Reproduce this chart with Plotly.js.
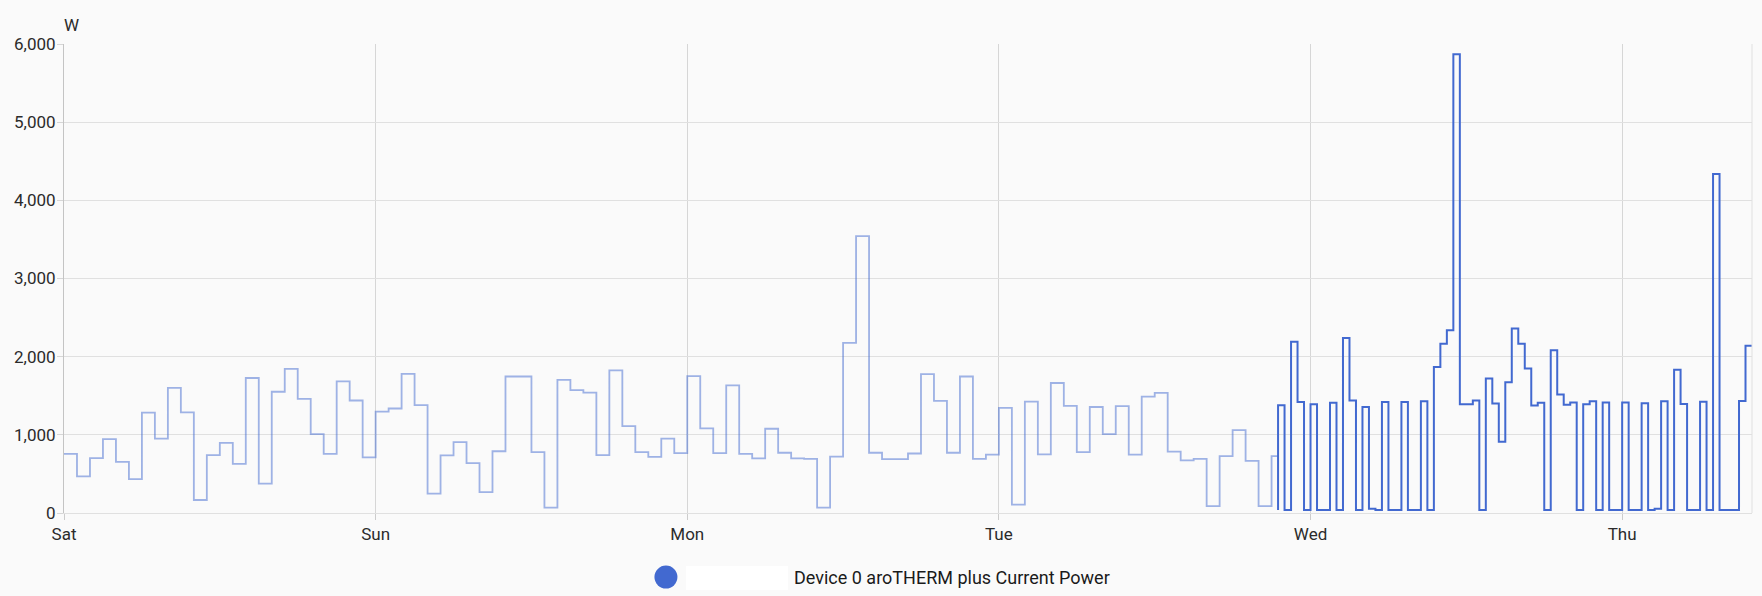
<!DOCTYPE html>
<html>
<head>
<meta charset="utf-8">
<script src="https://cdn.plot.ly/plotly-3.0.1.min.js"></script>
<style>
  html, body { margin: 0; padding: 0; background: #fafafa; }
  #chart { width: 1762px; height: 596px; }
</style>
</head>
<body>
<div id="chart"></div>
<script>
// ---- Data ----
// Long-term statistics (hourly means), starting Saturday 00:00
const statsStart = '2024-01-06T00:00:00';
const statsSat = [756, 468, 702, 946, 654, 434, 1283, 951, 1600, 1288, 166, 741, 898, 629, 1727, 376, 1551, 1844, 1459, 1010, 756, 1683, 1439, 712];
const statsSun = [1298, 1337, 1780, 1380, 249, 737, 907, 639, 268, 790, 1746, 1746, 780, 68, 1702, 1571, 1541, 741, 1824, 1112, 780, 717, 951, 766];
const statsMon = [1751, 1083, 766, 1634, 756, 698, 1078, 771, 698, 693, 68, 722, 2176, 3541, 771, 688, 688, 761, 1776, 1434, 771, 1746, 693, 746];
const statsTue = [1346, 107, 1424, 751, 1663, 1371, 780, 1356, 1010, 1366, 746, 1488, 1537, 785, 673, 693, 88, 727, 1059, 668, 88, 727];
const statsEnd = '2024-01-09T21:30:00';

// Recent history (state changes)
const histTimes = [
  '2024-01-09T21:30', '2024-01-09T21:30', '2024-01-09T22:00', '2024-01-09T22:30', '2024-01-09T23:00', '2024-01-09T23:30',
  '2024-01-10T00:00', '2024-01-10T00:30', '2024-01-10T01:30', '2024-01-10T02:00', '2024-01-10T02:30', '2024-01-10T03:00',
  '2024-01-10T03:30', '2024-01-10T04:00', '2024-01-10T04:30', '2024-01-10T05:00', '2024-01-10T05:30', '2024-01-10T06:00',
  '2024-01-10T07:00', '2024-01-10T07:30', '2024-01-10T08:30', '2024-01-10T09:00', '2024-01-10T09:30', '2024-01-10T10:00',
  '2024-01-10T10:30', '2024-01-10T11:00', '2024-01-10T11:30', '2024-01-10T12:30', '2024-01-10T13:00', '2024-01-10T13:30',
  '2024-01-10T14:00', '2024-01-10T14:30', '2024-01-10T15:00', '2024-01-10T15:30', '2024-01-10T16:00', '2024-01-10T16:30',
  '2024-01-10T17:00', '2024-01-10T17:30', '2024-01-10T18:00', '2024-01-10T18:30', '2024-01-10T19:00', '2024-01-10T19:30',
  '2024-01-10T20:00', '2024-01-10T20:30', '2024-01-10T21:00', '2024-01-10T21:30', '2024-01-10T22:00', '2024-01-10T22:30',
  '2024-01-10T23:00', '2024-01-11T00:00', '2024-01-11T00:30', '2024-01-11T01:30', '2024-01-11T02:00', '2024-01-11T02:30',
  '2024-01-11T03:00', '2024-01-11T03:30', '2024-01-11T04:00', '2024-01-11T04:30', '2024-01-11T05:00', '2024-01-11T06:00',
  '2024-01-11T06:30', '2024-01-11T07:00', '2024-01-11T07:30', '2024-01-11T09:00', '2024-01-11T09:30', '2024-01-11T10:00'
];
const histValues = [
  39, 1380, 39, 2190, 1420, 39,
  1390, 39, 1410, 39, 2239, 1439,
  39, 1356, 55, 39, 1420, 39,
  1420, 39, 1429, 39, 1868, 2166,
  2337, 5868, 1390, 1439, 39, 1722,
  1400, 912, 1673, 2361, 2166, 1849,
  1376, 1410, 39, 2083, 1517, 1385,
  1415, 39, 1390, 1429, 39, 1415,
  39, 1415, 39, 1405, 39, 55,
  1429, 39, 1834, 1395, 39, 1424,
  39, 4337, 39, 1434, 2141, 2141
];

const seriesName = 'Device 0 aroTHERM plus Current Power';
const unitLabel = 'W';
const dayStart = '2024-01-06';
const xRange = ['2024-01-06 00:00', '2024-01-11 10:00'];

// ---- Build the statistics trace ----
const statsValues = [].concat(statsSat, statsSun, statsMon, statsTue);
const t0 = new Date(statsStart + 'Z').getTime();
const statsTimes = statsValues.map((v, i) => new Date(t0 + i * 3600000).toISOString().slice(0, 19).replace('T', ' '));
statsTimes.push(statsEnd.replace('T', ' '));
const statsY = statsValues.concat([statsValues[statsValues.length - 1]]);

const BLUE = '#4269d0';

const traces = [
  {
    type: 'scatter', mode: 'lines', name: seriesName + ' (statistics)',
    x: statsTimes, y: statsY,
    line: { shape: 'hv', color: 'rgba(66,105,208,0.5)', width: 1.8 },
    showlegend: false, hoverinfo: 'skip'
  },
  {
    type: 'scatter', mode: 'lines', name: seriesName,
    x: histTimes, y: histValues,
    line: { shape: 'hv', color: BLUE, width: 2 },
    showlegend: false, hoverinfo: 'skip'
  }
];

const FONT = 'Roboto, "Noto Sans", sans-serif';
const TXT = '#2b2b2b';

const layout = {
  width: 1762, height: 596,
  margin: { l: 64, r: 10, t: 44, b: 83 },
  paper_bgcolor: '#fafafa',
  plot_bgcolor: '#fafafa',
  font: { family: FONT, size: 17, color: TXT },
  showlegend: false,
  xaxis: {
    type: 'date',
    range: xRange,
    tick0: dayStart,
    dtick: 86400000,
    tickformat: '%a',
    showgrid: true,
    gridcolor: '#d6d6d6',
    gridwidth: 1,
    showline: true,
    linecolor: '#e0e0e0',
    ticks: 'outside',
    ticklen: 6,
    tickcolor: '#cccccc',
    tickfont: { family: FONT, size: 17, color: TXT },
    zeroline: false,
    fixedrange: true
  },
  yaxis: {
    range: [0, 6000],
    dtick: 1000,
    tick0: 0,
    tickformat: ',d',
    showgrid: true,
    gridcolor: '#e0e0e0',
    gridwidth: 1,
    showline: true,
    linecolor: '#c4c4c4',
    ticks: 'outside',
    ticklen: 6,
    tickcolor: '#d6d6d6',
    ticklabelstandoff: -2,
    tickfont: { family: FONT, size: 17, color: TXT },
    zeroline: false,
    fixedrange: true
  },
  shapes: [
    { type: 'line', xref: 'paper', yref: 'paper', x0: 1, x1: 1, y0: 0, y1: 1,
      line: { color: '#e0e0e0', width: 1 } },
    { type: 'rect', xref: 'paper', yref: 'paper', x0: 0.3685, x1: 0.4289, y0: -0.164, y1: -0.113,
      fillcolor: '#ffffff', line: { width: 0 }, layer: 'below' },
    { type: 'circle', xref: 'paper', yref: 'paper', xsizemode: 'pixel', ysizemode: 'pixel',
      xanchor: 0.3566, yanchor: -0.1365, x0: -11.5, x1: 11.5, y0: -11.5, y1: 11.5,
      fillcolor: BLUE, line: { width: 0 } }
  ],
  annotations: [
    { xref: 'paper', yref: 'paper', x: 0.0045, y: 1.0405, xanchor: 'center', yanchor: 'middle',
      text: unitLabel, showarrow: false, font: { family: FONT, size: 17, color: TXT } },
    { xref: 'paper', yref: 'paper', x: 0.4313, y: -0.1365, xanchor: 'left', yanchor: 'middle',
      text: seriesName, showarrow: false, font: { family: FONT, size: 18, color: '#1a1a1a' } }
  ]
};

Plotly.newPlot('chart', traces, layout, { staticPlot: true, displayModeBar: false });
</script>
</body>
</html>
